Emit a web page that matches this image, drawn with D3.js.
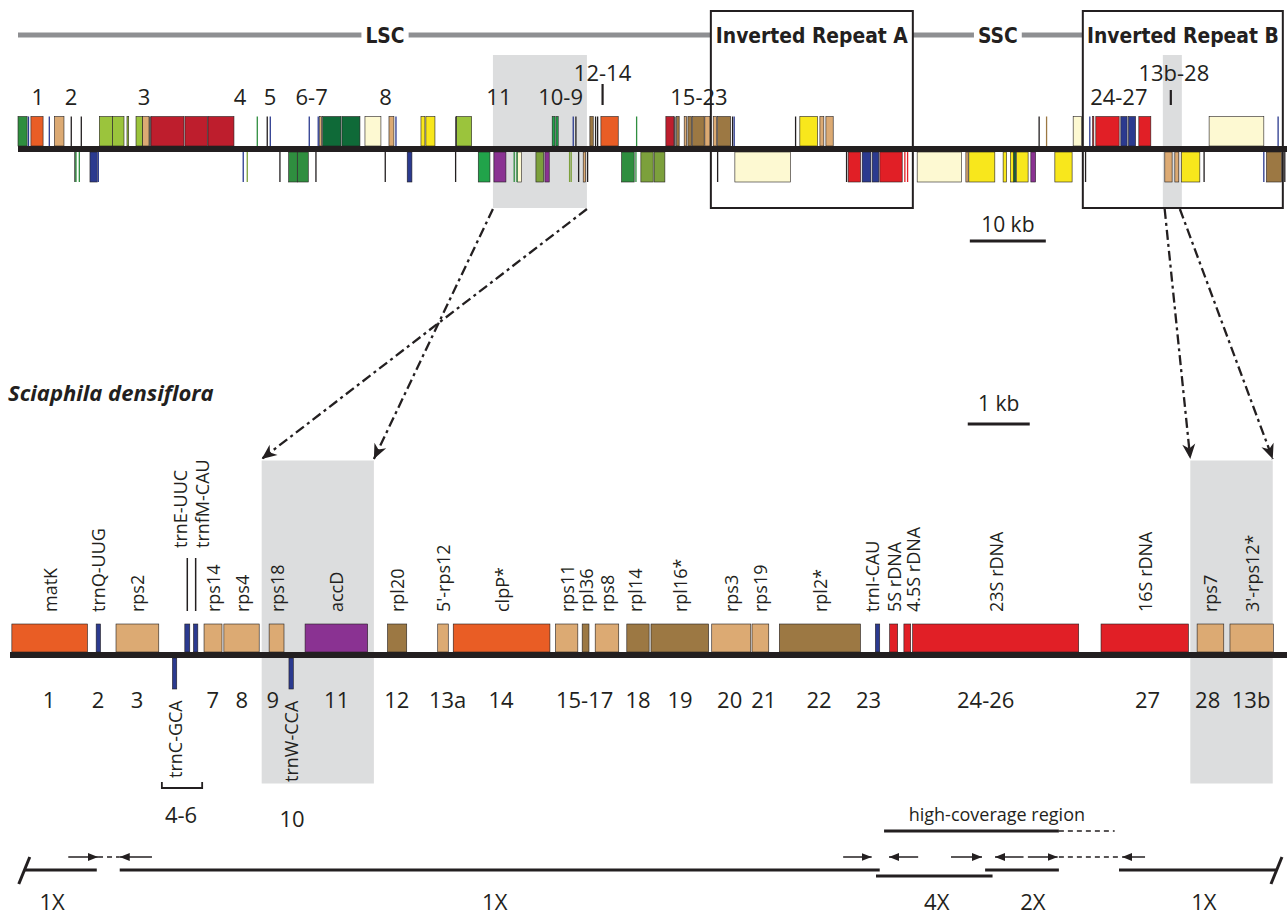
<!DOCTYPE html>
<html><head><meta charset="utf-8">
<script src="https://cdn.jsdelivr.net/npm/d3@7"></script>
<style>body{margin:0;background:#fff}svg{display:block}</style>
</head><body>
<svg id="c" width="1287" height="915"></svg>
<script>
// ---------- DATA ----------
const colorKeys = {orange:"#e95d25", tan:"#dcaa73", brown:"#9c7843", navy:"#2b3a8f", bred:"#e11f26",
  dred:"#be1e2d", lgreen:"#9bc43c", dgreen:"#0f6a38", mgreen:"#2f8e3f", bgreen:"#21a34a",
  ogreen:"#7ca03c", purple:"#8a3292", yellow:"#f8e71c", cream:"#fdf9d2", black:"#231f20"};

// reference plastome (kb)
const regionNames = ["LSC","Inverted Repeat A","SSC","Inverted Repeat B"];
const regionStart = [0, 91.18, 117.76, 140.13];
const regionEnd   = [91.18, 117.76, 140.13, 166.45];
const regionLabelKb = [48.3, 104.47, 128.95, 153.29];
const regionBoxed = [false, true, false, true];

const topHighlights = [[62.5, 74.87], [150.66, 153.16]];

const topPlusGenes = [
 [0.0,1.2,"mgreen"],[1.7,3.3,"orange"],[4.8,6.05,"tan"],[10.7,12.41,"lgreen"],[12.46,13.95,"lgreen"],
 [14.34,14.57,"lgreen"],[15.53,16.41,"lgreen"],[16.41,17.24,"tan"],[17.5,21.84,"dred"],[21.97,24.91,"dred"],
 [25.0,28.42,"dred"],[39.7,39.96,"tan"],[40.09,42.5,"dgreen"],[42.63,45.0,"dgreen"],[45.66,47.76,"cream"],
 [48.82,49.47,"tan"],[53.03,53.55,"yellow"],[53.68,54.87,"yellow"],[57.72,59.7,"lgreen"],[70.3,70.66,"bgreen"],
 [70.79,71.09,"bgreen"],[75.26,75.7,"brown"],[76.71,78.99,"orange"],[85.26,86.32,"dred"],[86.67,87.01,"brown"],
 [87.67,87.99,"tan"],[88.16,88.64,"brown"],[88.78,90.3,"brown"],[90.39,91.05,"tan"],[91.49,91.93,"tan"],
 [92.07,93.78,"brown"],[102.89,105.22,"yellow"],[105.53,106.05,"tan"],[106.32,107.28,"tan"],
 [138.86,139.96,"cream"],[141.41,141.58,"bred"],[141.84,144.91,"bred"],[145.13,145.96,"navy"],
 [146.14,147.07,"navy"],[147.5,149.08,"bred"],[156.75,163.95,"cream"]
];
const topPlusMarks = [
 [1.38,"navy"],[4.12,"navy"],[7.01,"black"],[8.33,"black"],[17.37,"black"],[31.49,"mgreen"],[32.8,"black"],
 [33.2,"navy"],[38.33,"navy"],[39.51,"navy"],[49.74,"navy"],[57.63,"black"],[73.07,"navy"],[73.42,"black"],
 [76.01,"black"],[76.28,"black"],[81.41,"mgreen"],[86.45,"black"],[94.04,"black"],[94.25,"navy"],
 [102.33,"black"],[134.38,"black"],[135.36,"brown"],[141.05,"navy"],[165.83,"navy"]
];
const topMinusGenes = [
 [9.47,10.43,"navy"],[35.62,36.75,"mgreen"],[36.8,38.2,"mgreen"],[51.22,51.84,"navy"],[60.57,62.11,"bgreen"],
 [62.63,64.21,"purple"],[65.7,66.28,"cream"],[68.16,69.17,"ogreen"],[69.34,69.91,"purple"],[74.38,74.7,"tan"],
 [79.43,81.09,"mgreen"],[81.97,83.59,"ogreen"],[83.72,85.13,"ogreen"],[94.34,101.67,"cream"],
 [109.25,110.88,"bred"],[111.09,112.24,"navy"],[112.41,113.29,"navy"],[113.42,116.36,"bred"],
 [118.33,124.17,"cream"],[124.74,125.04,"tan"],[125.13,128.55,"yellow"],[129.64,130.09,"yellow"],
 [130.62,131.05,"yellow"],[131.05,131.32,"dgreen"],[131.41,132.93,"yellow"],[133.29,133.91,"purple"],
 [136.45,138.72,"yellow"],[150.92,151.88,"tan"],[152.24,152.76,"tan"],[153.12,155.53,"yellow"],
 [164.3,166.28,"brown"]
];
const topMinusMarks = [
 [7.5,"black"],[7.63,"mgreen"],[8.07,"mgreen"],[10.57,"navy"],[29.64,"navy"],[30.17,"ogreen"],[34.47,"black"],
 [39.21,"black"],[48.33,"black"],[57.59,"black"],[65.3,"mgreen"],[65.66,"mgreen"],[72.59,"ogreen"],
 [72.8,"ogreen"],[73.78,"black"],[74.96,"black"],[81.32,"mgreen"],[92.07,"black"],[109.04,"black"],
 [116.71,"bred"],[117.07,"bred"],[140.49,"black"],[156.09,"black"],[163.95,"navy"],[166.71,"black"]
];
const topNumberLabels = ["1","2","3","4","5","6-7","8","11","10-9","12-14","15-23","24-27","13b-28"];
const topNumberKb     = [2.59,6.97,16.58,29.21,33.16,38.64,48.38,63.29,71.41,76.93,89.61,144.87,152.11];
const topNumberRow    = [0,0,0,0,0,0,0,0,0,1,0,0,1];
const topTickKb = [76.93, 151.71];
const topScaleBarKb = [125.26, 135.26];

// Sciaphila densiflora map (kb)
const bottomHighlights = [[4.06,5.87],[19.04,20.37]];
const geneNames = ["matK","trnQ-UUG","rps2","trnE-UUC","trnfM-CAU","rps14","rps4","rps18","accD","rpl20",
 "5'-rps12","clpP*","rps11","rpl36","rps8","rpl14","rpl16*","rps3","rps19","rpl2*","trnI-CAU","5S rDNA",
 "4.5S rDNA","23S rDNA","16S rDNA","rps7","3'-rps12*"];
const geneStart = [0.03,1.39,1.71,2.82,2.96,3.13,3.45,4.18,4.76,6.09,6.9,7.15,8.8,9.23,9.44,9.95,10.34,11.32,
 11.97,12.41,13.96,14.19,14.42,14.56,17.6,19.15,19.68];
const geneEnd = [1.25,1.46,2.4,2.9,3.03,3.42,4.02,4.42,5.77,6.4,7.07,8.71,9.16,9.34,9.82,10.31,11.27,11.95,
 12.24,13.72,14.03,14.32,14.53,17.24,19.01,19.58,20.38];
const geneColor = ["orange","navy","tan","navy","navy","tan","tan","tan","purple","brown","tan","orange","tan",
 "brown","tan","brown","brown","tan","tan","brown","navy","bred","bred","bred","bred","tan","tan"];
const geneLabelKb = {"trnE-UUC":2.74,"trnfM-CAU":3.09,"trnI-CAU":13.9,"4.5S rDNA":14.56,"rpl14":10.08};
const geneLabelRaised = ["trnE-UUC","trnfM-CAU"];
const minusGeneNames = ["trnC-GCA","trnW-CCA"];
const minusGeneStart = [2.62,4.5];
const minusGeneEnd = [2.69,4.57];
const numberLabels = ["1","2","3","7","8","9","11","12","13a","14","15-17","18","19","20","21","22","23",
 "24-26","27","28","13b"];
const numberKb = [0.63,1.42,2.05,3.27,3.74,4.24,5.27,6.24,7.06,7.92,9.27,10.13,10.81,11.61,12.16,13.05,13.85,
 15.74,18.35,19.32,20.02];
const lowNumberLabels = ["4-6","10"];
const lowNumberKb = [2.76,4.55];
const bracketKb = [2.45,3.1];
const bottomScaleBarKb = [15.45,16.45];

// coverage diagram (kb on same scale)
const coverageSolid = [[0.23,1.4,0],[1.77,14.03,0],[13.97,15.85,1],[15.73,16.92,0],[17.89,20.43,0]];
const coverageDashed = [[1.42,1.77],[16.92,17.9]];
const coverageArrows = [[0.94,1.42],[2.29,1.77],[13.44,13.9],[14.65,14.18],[15.18,15.68],[16.35,15.89],
 [16.42,16.9],[18.31,17.94]];
const highCoverage = [14.1,16.92];
const highCoverageDashed = [16.92,17.82];
const highCoverageLabelKb = 15.92;
const coverageLabels = ["1X","1X","4X","2X","1X"];
const coverageLabelKb = [0.68,7.82,14.95,16.5,19.26];

// ---------- DRAW ----------
const svg = d3.select("#c");
const C = colorKeys;
const ink = "#231f20";
const xs = d3.scaleLinear().domain([0,167]).range([18,1287]);
const xb = d3.scaleLinear().domain([0,20.6]).range([10,1287]);
const numFont = "'Open Sans', 'Noto Sans', sans-serif";
const labFont = "'Open Sans','Noto Sans',sans-serif";

// highlights
svg.append("g").selectAll("rect").data(topHighlights).join("rect")
  .attr("x",d=>xs(d[0])).attr("width",d=>xs(d[1])-xs(d[0])).attr("y",55).attr("height",153).attr("fill","#dcddde");
svg.append("g").selectAll("rect").data(bottomHighlights).join("rect")
  .attr("x",d=>xb(d[0])).attr("width",d=>xb(d[1])-xb(d[0])).attr("y",460.5).attr("height",323).attr("fill","#dcddde");

// region header
const hdr = svg.append("g");
const rl = hdr.selectAll("text").data(regionNames).join("text")
  .attr("x",(d,i)=>xs(regionLabelKb[i])).attr("y",43).attr("text-anchor","middle")
  .attr("font-family","'DejaVu Sans Condensed','Liberation Sans Narrow',sans-serif").attr("font-weight","bold")
  .attr("font-size",22).attr("fill",ink).text(d=>d);
const irW = rl.nodes()[1].getComputedTextLength();
const hdrSize = 22 * 192 / irW;
rl.attr("font-size", hdrSize);
const bb = rl.nodes().map(n=>n.getBBox());
const segs = [[xs(0), bb[0].x-4],[bb[0].x+bb[0].width+4, xs(regionStart[1])],
  [xs(regionEnd[1]), bb[2].x-4],[bb[2].x+bb[2].width+4, xs(regionStart[3])]];
hdr.selectAll("line").data(segs).join("line").attr("x1",d=>d[0]).attr("x2",d=>d[1]).attr("y1",35).attr("y2",35)
  .attr("stroke","#8e8f92").attr("stroke-width",5);
hdr.selectAll("rect").data(regionNames.filter((d,i)=>regionBoxed[i])).join("rect")
  .attr("x",d=>xs(regionStart[regionNames.indexOf(d)])).attr("width",d=>xs(regionEnd[regionNames.indexOf(d)])-xs(regionStart[regionNames.indexOf(d)]))
  .attr("y",11).attr("height",197).attr("fill","none").attr("stroke",ink).attr("stroke-width",2);

// top genes
function drawBoxes(g, data, sc, y0, y1){
  g.selectAll(null).data(data).join("rect")
   .attr("x",d=>sc(d[0])).attr("width",d=>Math.max(0.8, sc(d[1])-sc(d[0])))
   .attr("y",y0).attr("height",y1-y0).attr("fill",d=>C[d[2]])
   .attr("stroke",ink).attr("stroke-width",0.6);
}
function drawMarks(g, data, sc, y0, y1){
  g.selectAll(null).data(data).join("rect")
   .attr("x",d=>sc(d[0])-0.65).attr("width",1.3).attr("y",y0).attr("height",y1-y0).attr("fill",d=>C[d[1]]);
}
const tg = svg.append("g");
drawBoxes(tg, topPlusGenes, xs, 116.5, 146);
drawMarks(tg, topPlusMarks, xs, 116.5, 146);
drawBoxes(tg, topMinusGenes, xs, 152, 182);
drawMarks(tg, topMinusMarks, xs, 152, 182);
tg.append("line").attr("x1",xs(0)).attr("x2",1287).attr("y1",149).attr("y2",149).attr("stroke",ink).attr("stroke-width",6);

tg.selectAll("text").data(topNumberLabels).join("text")
  .attr("x",(d,i)=>xs(topNumberKb[i])).attr("y",(d,i)=>topNumberRow[i]?81:105).attr("text-anchor","middle")
  .attr("font-family",numFont).attr("font-size",22).attr("fill",ink).text(d=>d);
tg.selectAll("line.tick").data(topTickKb).join("line").attr("class","tick")
  .attr("x1",d=>xs(d)).attr("x2",d=>xs(d)).attr("y1",(d,i)=>i?90:84).attr("y2",105).attr("stroke",ink).attr("stroke-width",2.2);

// scale bars
svg.append("line").attr("x1",xs(topScaleBarKb[0])).attr("x2",xs(topScaleBarKb[1])).attr("y1",241).attr("y2",241)
  .attr("stroke",ink).attr("stroke-width",3);
svg.append("text").attr("x",xs((topScaleBarKb[0]+topScaleBarKb[1])/2)).attr("y",232).attr("text-anchor","middle")
  .attr("font-family",numFont).attr("font-size",21).attr("fill",ink).text("10 kb");
svg.append("line").attr("x1",xb(bottomScaleBarKb[0])).attr("x2",xb(bottomScaleBarKb[1])).attr("y1",424).attr("y2",424)
  .attr("stroke",ink).attr("stroke-width",3);
svg.append("text").attr("x",xb((bottomScaleBarKb[0]+bottomScaleBarKb[1])/2)).attr("y",411).attr("text-anchor","middle")
  .attr("font-family",numFont).attr("font-size",21).attr("fill",ink).text("1 kb");

svg.append("text").attr("x",8).attr("y",401).attr("font-family",numFont).attr("font-size",22)
  .attr("font-weight","bold").attr("font-style","italic").attr("fill",ink).text("Sciaphila densiflora");

// dashed arrows
const defs = svg.append("defs");
defs.append("marker").attr("id","ah").attr("viewBox","-16 -8 18 16").attr("refX",0).attr("refY",0)
  .attr("markerWidth",18).attr("markerHeight",16).attr("markerUnits","userSpaceOnUse").attr("orient","auto")
  .append("path").attr("d","M0,0 L-15,-6.5 L-10.5,0 L-15,6.5 Z").attr("fill",ink);
defs.append("marker").attr("id","sh").attr("viewBox","-10 -5 11 10").attr("refX",0).attr("refY",0)
  .attr("markerWidth",11).attr("markerHeight",10).attr("markerUnits","userSpaceOnUse").attr("orient","auto")
  .append("path").attr("d","M0,0 L-10,-4 L-10,4 Z").attr("fill",ink);
const arrowLinks = [
  [xs(topHighlights[0][0]), xb(bottomHighlights[0][1])],
  [xs(topHighlights[0][1]), xb(bottomHighlights[0][0])],
  [xs(150.9), xb(bottomHighlights[1][0])],
  [xs(152.9), xb(bottomHighlights[1][1])]
];
svg.append("g").selectAll("line").data(arrowLinks).join("line")
  .attr("x1",d=>d[0]).attr("y1",209).attr("x2",d=>d[1]).attr("y2",459)
  .attr("stroke",ink).attr("stroke-width",2.3).attr("stroke-dasharray","10,4,3,4").attr("marker-end","url(#ah)");

// bottom gene map
const bg = svg.append("g");
const genes = geneNames.map((n,i)=>[geneStart[i],geneEnd[i],geneColor[i],n]);
drawBoxes(bg, genes, xb, 624, 652);
const mg = minusGeneNames.map((n,i)=>[minusGeneStart[i],minusGeneEnd[i],"navy",n]);
drawBoxes(bg, mg, xb, 658, 689);
bg.append("line").attr("x1",xb(0)).attr("x2",1287).attr("y1",655).attr("y2",655).attr("stroke",ink).attr("stroke-width",6);

bg.selectAll("text.gl").data(genes).join("text").attr("class","gl")
  .attr("transform",d=>{const x = xb(geneLabelKb[d[3]]!==undefined?geneLabelKb[d[3]]:(d[0]+d[1])/2);
     const y = geneLabelRaised.includes(d[3])?548:612; return `translate(${x},${y}) rotate(-90)`;})
  .attr("dominant-baseline","central").attr("font-family",labFont).attr("font-size",18).attr("fill",ink).text(d=>d[3]);
bg.selectAll("line.conn").data(genes.filter(d=>geneLabelRaised.includes(d[3]))).join("line").attr("class","conn")
  .attr("x1",d=>xb((d[0]+d[1])/2)).attr("x2",d=>xb((d[0]+d[1])/2)).attr("y1",558).attr("y2",611)
  .attr("stroke",ink).attr("stroke-width",1.5);
bg.selectAll("text.ml").data(mg).join("text").attr("class","ml")
  .attr("transform",(d,i)=>`translate(${xb((d[0]+d[1])/2)},${i?782:778}) rotate(-90)`)
  .attr("dominant-baseline","central").attr("font-family",labFont).attr("font-size",18).attr("fill",ink).text(d=>d[3]);
bg.append("path").attr("d",`M${xb(bracketKb[0])},782 V788 H${xb(bracketKb[1])} V782`).attr("fill","none")
  .attr("stroke",ink).attr("stroke-width",1.8);
bg.selectAll("text.nl").data(numberLabels).join("text").attr("class","nl")
  .attr("x",(d,i)=>xb(numberKb[i])).attr("y",708).attr("text-anchor","middle")
  .attr("font-family",numFont).attr("font-size",22).attr("fill",ink).text(d=>d);
bg.selectAll("text.ll").data(lowNumberLabels).join("text").attr("class","ll")
  .attr("x",(d,i)=>xb(lowNumberKb[i])).attr("y",(d,i)=>i?827:823).attr("text-anchor","middle")
  .attr("font-family",numFont).attr("font-size",22).attr("fill",ink).text(d=>d);

// coverage diagram
const cg = svg.append("g");
cg.selectAll("line.cs").data(coverageSolid).join("line").attr("class","cs")
  .attr("x1",d=>xb(d[0])).attr("x2",d=>xb(d[1])).attr("y1",d=>d[2]?876:870).attr("y2",d=>d[2]?876:870)
  .attr("stroke",ink).attr("stroke-width",3.2);
cg.selectAll("line.cd").data(coverageDashed).join("line").attr("class","cd")
  .attr("x1",d=>xb(d[0])).attr("x2",d=>xb(d[1])).attr("y1",857).attr("y2",857)
  .attr("stroke",ink).attr("stroke-width",1.3).attr("stroke-dasharray","5,4");
cg.selectAll("line.ca").data(coverageArrows).join("line").attr("class","ca")
  .attr("x1",d=>xb(d[0])).attr("x2",d=>xb(d[1])).attr("y1",857).attr("y2",857)
  .attr("stroke",ink).attr("stroke-width",1.5).attr("marker-end","url(#sh)");
cg.append("line").attr("x1",xb(highCoverage[0])).attr("x2",xb(highCoverage[1])).attr("y1",831).attr("y2",831)
  .attr("stroke",ink).attr("stroke-width",3.2);
cg.append("line").attr("x1",xb(highCoverageDashed[0])).attr("x2",xb(highCoverageDashed[1])).attr("y1",831).attr("y2",831)
  .attr("stroke",ink).attr("stroke-width",1.3).attr("stroke-dasharray","5,4");
cg.append("text").attr("x",xb(highCoverageLabelKb)).attr("y",821).attr("text-anchor","middle")
  .attr("font-family",labFont).attr("font-size",18).attr("fill",ink).text("high-coverage region");
cg.selectAll("line.sl").data([[xb(0.23),1],[xb(20.43),1]]).join("line").attr("class","sl")
  .attr("x1",d=>d[0]-5.5).attr("x2",d=>d[0]+5.5).attr("y1",884).attr("y2",857)
  .attr("stroke",ink).attr("stroke-width",3);
cg.selectAll("text.cl").data(coverageLabels).join("text").attr("class","cl")
  .attr("x",(d,i)=>xb(coverageLabelKb[i])).attr("y",910).attr("text-anchor","middle")
  .attr("font-family",numFont).attr("font-size",22).attr("fill",ink).text(d=>d);
</script>
</body></html>
